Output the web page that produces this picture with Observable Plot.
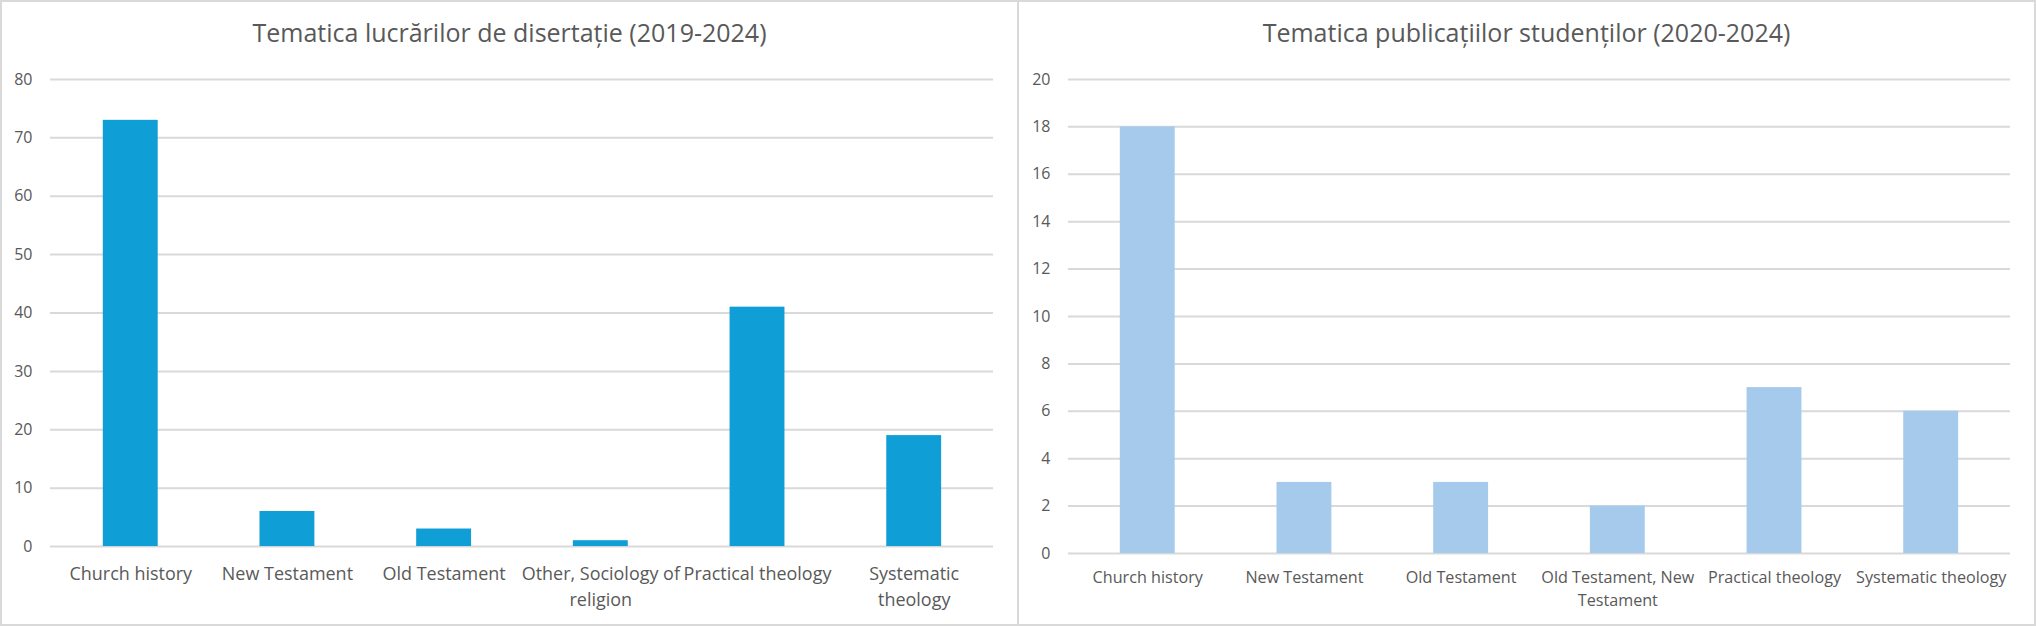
<!DOCTYPE html>
<html><head><meta charset="utf-8">
<script src="https://cdn.jsdelivr.net/npm/d3@7"></script>
<script src="https://cdn.jsdelivr.net/npm/@observablehq/plot@0.6"></script>
<style>
body{margin:0;background:#fff;font-family:"Open Sans",sans-serif;width:2036px;height:626px;position:relative;overflow:hidden;}
.panel{position:absolute;top:0;height:626px;box-sizing:border-box;border:2px solid #d9d9d9;}
.title{position:absolute;left:0;right:0;top:18px;text-align:center;font-size:25px;line-height:24px;color:#595959;white-space:nowrap;}
.chart{position:absolute;top:58px;left:-2px;}
.chart svg{background:transparent !important;overflow:visible;}
</style></head><body>
<div class="panel" style="left:0;width:1019px"><div class="title" id="t1"></div><div class="chart" id="c1"></div></div>
<div class="panel" style="left:1017px;width:1019px"><div class="title" id="t2"></div><div class="chart" id="c2"></div></div>
<script>
const title1 = "Tematica lucrărilor de disertație (2019-2024)";
const categories1 = ["Church history", "New Testament", "Old Testament", "Other, Sociology of religion", "Practical theology", "Systematic theology"];
const values1 = [73, 6, 3, 1, 41, 19];
const xTickLabels1 = ["Church history", "New Testament", "Old Testament", "Other, Sociology of\nreligion", "Practical theology", "Systematic\ntheology"];
const yTicks1 = [0, 10, 20, 30, 40, 50, 60, 70, 80];

const title2 = "Tematica publicațiilor studenților (2020-2024)";
const categories2 = ["Church history", "New Testament", "Old Testament", "Old Testament, New Testament", "Practical theology", "Systematic theology"];
const values2 = [18, 3, 3, 2, 7, 6];
const xTickLabels2 = ["Church history", "New Testament", "Old Testament", "Old Testament, New\nTestament", "Practical theology", "Systematic theology"];
const yTicks2 = [0, 2, 4, 6, 8, 10, 12, 14, 16, 18, 20];

function makeChart({categories, values, xTickLabels, yTicks, color, marginLeft, marginBottom, xFontSize, xLineHeight, xPad}) {
  const data = categories.map((c, i) => ({cat: c, value: values[i]}));
  const labelMap = new Map(categories.map((c, i) => [c, xTickLabels[i]]));
  return Plot.plot({
    width: 1019, height: 562,
    marginLeft, marginRight: 24, marginTop: 19, marginBottom,
    style: {fontFamily: "'Open Sans', sans-serif", color: "#595959", background: "transparent", overflow: "visible"},
    x: {domain: categories, paddingInner: 0.65, paddingOuter: 0.325, label: null},
    y: {domain: [yTicks[0], yTicks[yTicks.length - 1]], label: null},
    marks: [
      Plot.ruleY(yTicks, {stroke: "#d9d9d9", strokeWidth: 2}),
      Plot.barY(data, {x: "cat", y: "value", fill: color}),
      Plot.axisY({ticks: yTicks, tickSize: 0, tickPadding: 18, fontSize: 16, label: null, fill: "#595959"}),
      Plot.axisX({tickSize: 0, tickPadding: xPad, fontSize: xFontSize, lineHeight: xLineHeight, tickFormat: d => labelMap.get(d), label: null, fill: "#595959"})
    ]
  });
}

document.getElementById("t1").textContent = title1;
document.getElementById("t2").textContent = title2;
document.getElementById("c1").append(makeChart({categories: categories1, values: values1, xTickLabels: xTickLabels1, yTicks: yTicks1, color: "#0f9ed5", marginLeft: 50, marginBottom: 75, xFontSize: 18, xLineHeight: 1.44, xPad: 15}));
document.getElementById("c2").append(makeChart({categories: categories2, values: values2, xTickLabels: xTickLabels2, yTicks: yTicks2, color: "#a6caec", marginLeft: 51, marginBottom: 68, xFontSize: 16.2, xLineHeight: 1.42, xPad: 13}));
</script>
</body></html>
